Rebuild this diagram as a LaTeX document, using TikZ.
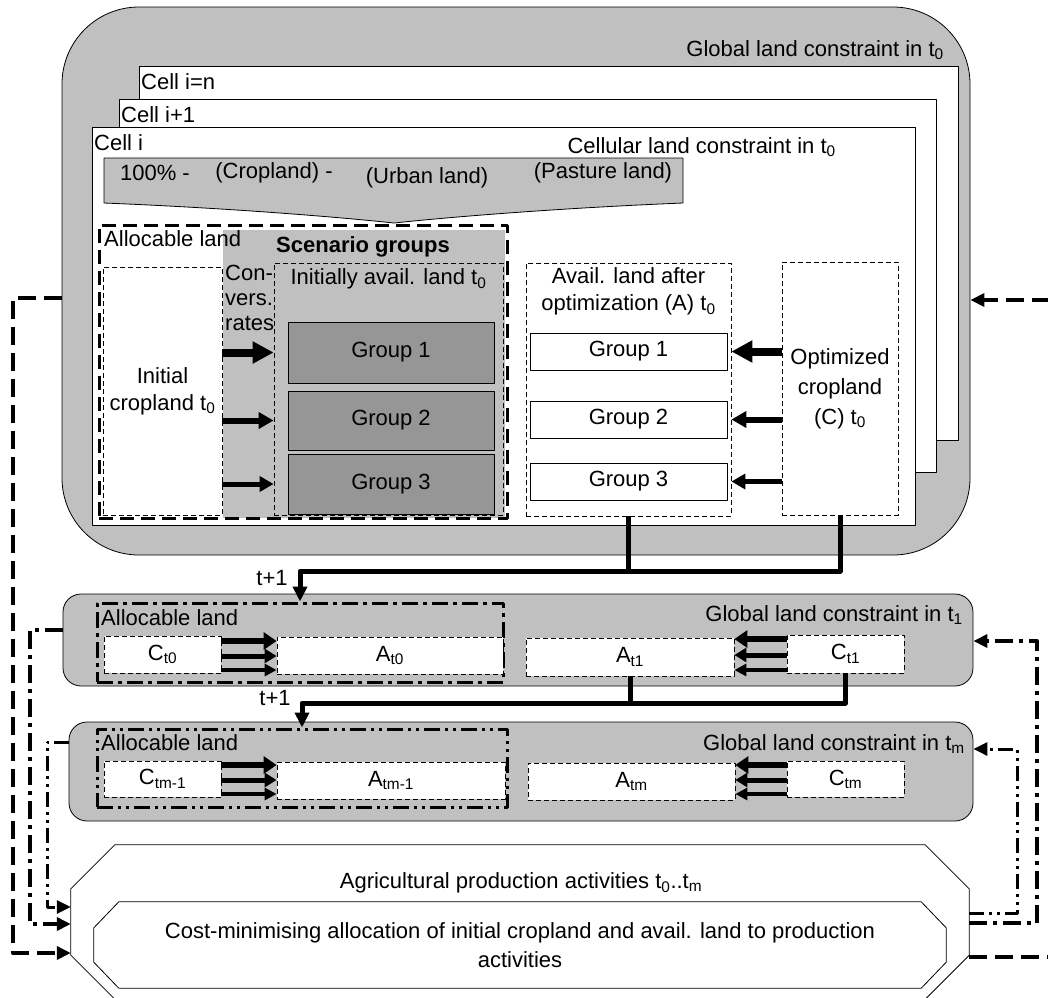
\documentclass[tikz,border=0pt]{standalone}
\usepackage{fontspec}
\setmainfont{Liberation Sans}
\usetikzlibrary{arrows.meta}
\definecolor{silver}{RGB}{192,192,192}
\definecolor{grpgray}{RGB}{150,150,150}

\begin{document}
\begin{tikzpicture}[x=1pt,y=-1pt,font=\fontsize{22}{27}\selectfont,line join=round,>={Triangle[length=14pt,width=13pt]},
  txt/.style={inner sep=0pt},
  box/.style={draw,line width=0.8pt,inner sep=0pt},
  thinbox/.style={box,dash pattern=on 5pt off 3pt},
  rowbox/.style={thinbox,fill=white},
  grpbox/.style={box,fill=grpgray,minimum width=206pt},
  optbox/.style={box,fill=white,minimum width=197pt,minimum height=37pt},
  heavydash/.style={draw,inner sep=0pt,line width=3pt,dash pattern=on 14pt off 7pt},
  heavydashdot/.style={draw,inner sep=0pt,line width=3pt,dash pattern=on 16pt off 5pt on 4pt off 5pt},
  heavydashdotdot/.style={draw,inner sep=0pt,line width=3pt,dash pattern=on 16pt off 5pt on 3pt off 5pt on 3pt off 5pt},
  fatI/.style={line width=8pt,-{Triangle[length=21pt,width=21pt]}},
  fatII/.style={line width=6pt,-{Triangle[length=15pt,width=16pt]}},
  fatIII/.style={line width=5pt,-{Triangle[length=14pt,width=15pt]}},
  rowI/.style={line width=6pt,-{Triangle[length=13pt,width=17pt]}},
  rowII/.style={line width=5pt,-{Triangle[length=12pt,width=14pt]}},
  rowIII/.style={line width=4pt,-{Triangle[length=12pt,width=12pt]}},
  tline/.style={line width=5pt,-{Triangle[length=15pt,width=14pt]}},
  loopdash/.style={line width=4pt,dash pattern=on 18pt off 8pt},
  loopdd/.style={line width=4pt,dash pattern=on 18pt off 6pt on 4pt off 6pt},
  loopddd/.style={line width=3pt,dash pattern=on 15pt off 5pt on 3pt off 5pt on 3pt off 5pt}]
\useasboundingbox (0,0) rectangle (1048,997);

\node[box,fill=silver,rounded corners=77pt,minimum width=908pt,minimum height=548pt] (glob0) at (516,281) {};
\node[txt,anchor=east] (glob0lbl) at (944,50) {Global land constraint in t\textsubscript{0}};
\node[box,fill=white,minimum width=819pt,minimum height=374pt] (cellN) at (548.5,253) {};
\node[box,fill=white,minimum width=817pt,minimum height=373pt] (cellB) at (527.5,285.5) {};
\node[box,fill=white,minimum width=823pt,minimum height=398pt] (cellA) at (503.5,326) {};
\node[txt,anchor=west] (cellNlbl) at (141,82) {Cell i=n};
\node[txt,anchor=west] (cellBlbl) at (121,115) {Cell i+1};
\node[txt,anchor=west] (cellAlbl) at (94,143) {Cell i};
\node[txt,anchor=east] (cellAcon) at (836,147) {Cellular land constraint in t\textsubscript{0}};

\draw[line width=0.8pt,fill=silver] (104,158) -- (683,158) -- (683,203) .. controls (560,208) and (450,217) .. (394,223) .. controls (338,217) and (228,208) .. (104,203) -- cycle;
\node[txt] (share1) at (155,173) {100\% -};
\node[txt] (share2) at (274,173) {(Cropland) -};
\node[txt] (share3) at (427,178) {(Urban land)};
\node[txt] (share4) at (603,173) {(Pasture land)};

\node[fill=silver,inner sep=0pt,minimum width=282pt,minimum height=288pt] (scen) at (364,374) {};
\node[heavydash,minimum width=408pt,minimum height=293pt] (alloc0) at (303,371.5) {};
\node[txt,anchor=west] (alloc0lbl) at (104,239) {Allocable land};
\node[txt,font=\fontsize{22}{27}\selectfont\bfseries] (scenlbl) at (363,247) {Scenario groups};
\node[thinbox,fill=white,minimum width=119pt,minimum height=248pt,align=center] (init0) at (162.5,391) {Initial\\cropland t\textsubscript{0}};
\node[txt,anchor=north west,align=left,font=\fontsize{22}{25}\selectfont] (conv) at (225,265) {Con-\\vers.\\rates};
\node[thinbox,minimum width=229pt,minimum height=252pt] (avail0) at (388.5,389) {};
\node[txt] (avail0lbl) at (388.5,279) {Initially avail. land t\textsubscript{0}};
\node[grpbox,minimum height=61pt] (ga1) at (391,352.5) {Group 1};
\node[grpbox,minimum height=59pt] (ga2) at (391,420.5) {Group 2};
\node[grpbox,minimum height=60pt] (ga3) at (391,484) {Group 3};
\draw[fatI] (init0.east |- ga1) -- (avail0.west |- ga1);
\draw[fatII] (init0.east |- ga2) -- (avail0.west |- ga2);
\draw[fatIII] (init0.east |- ga3) -- (avail0.west |- ga3);

\node[thinbox,minimum width=205pt,minimum height=253pt] (availA) at (628.5,389.5) {};
\node[txt,align=center] (availAlbl) at (628.5,291.5) {Avail. land after\\optimization (A) t\textsubscript{0}};
\node[optbox] (gb1) at (628.5,351.5) {Group 1};
\node[optbox] (gb2) at (628.5,419.5) {Group 2};
\node[optbox] (gb3) at (628.5,481.5) {Group 3};
\node[thinbox,fill=white,minimum width=116pt,minimum height=253pt,align=center,font=\fontsize{22}{30}\selectfont] (opt0) at (840,388.5) {Optimized\\cropland\\(C) t\textsubscript{0}};
\draw[fatI] (opt0.west |- gb1) -- (availA.east |- gb1);
\draw[fatII] (opt0.west |- gb2) -- (availA.east |- gb2);
\draw[fatIII] (opt0.west |- gb3) -- (availA.east |- gb3);

\node[box,fill=silver,rounded corners=18pt,minimum width=910pt,minimum height=92pt] (glob1) at (518,640) {};
\node[txt,anchor=east] (glob1lbl) at (963,615) {Global land constraint in t\textsubscript{1}};
\node[heavydashdot,minimum width=406pt,minimum height=79pt] (alloc1) at (300,642.5) {};
\node[txt,anchor=west] (alloc1lbl) at (101,618) {Allocable land};
\node[rowbox,minimum width=117pt,minimum height=37pt] (c1a) at (162.5,654.5) {C\textsubscript{t0}};
\node[rowbox,minimum width=226pt,minimum height=37pt] (a1a) at (390,655.5) {A\textsubscript{t0}};
\node[rowbox,minimum width=208pt,minimum height=38pt] (a1b) at (630,657) {A\textsubscript{t1}};
\node[rowbox,minimum width=117pt,minimum height=38pt] (c1b) at (845.5,654) {C\textsubscript{t1}};
\draw[rowI] (c1a.east |- 0,641) -- (a1a.west |- 0,641);
\draw[rowII] (c1a.east |- 0,656) -- (a1a.west |- 0,656);
\draw[rowIII] (c1a.east |- 0,670) -- (a1a.west |- 0,670);
\draw[rowI] (c1b.west |- 0,639) -- (a1b.east |- 0,639);
\draw[rowII] (c1b.west |- 0,655) -- (a1b.east |- 0,655);
\draw[rowIII] (c1b.west |- 0,670) -- (a1b.east |- 0,670);

\node[box,fill=silver,rounded corners=18pt,minimum width=904pt,minimum height=99pt] (globm) at (521,771.5) {};
\node[txt,anchor=east] (globmlbl) at (965,744) {Global land constraint in t\textsubscript{m}};
\node[heavydashdotdot,minimum width=410pt,minimum height=78pt] (allocm) at (302,768) {};
\node[txt,anchor=west] (allocmlbl) at (101,743) {Allocable land};
\node[rowbox,minimum width=117pt,minimum height=36pt] (cma) at (162.5,779) {C\textsubscript{tm-1}};
\node[rowbox,minimum width=228pt,minimum height=37pt] (ama) at (391,780.5) {A\textsubscript{tm-1}};
\node[rowbox,minimum width=207pt,minimum height=37pt] (amb) at (631.5,781.5) {A\textsubscript{tm}};
\node[rowbox,minimum width=117pt,minimum height=36pt] (cmb) at (845.5,779) {C\textsubscript{tm}};
\draw[rowI] (cma.east |- 0,765) -- (ama.west |- 0,765);
\draw[rowII] (cma.east |- 0,780) -- (ama.west |- 0,780);
\draw[rowIII] (cma.east |- 0,794) -- (ama.west |- 0,794);
\draw[rowI] (cmb.west |- 0,765) -- (amb.east |- 0,765);
\draw[rowII] (cmb.west |- 0,780) -- (amb.east |- 0,780);
\draw[rowIII] (cmb.west |- 0,794) -- (amb.east |- 0,794);

\coordinate (jn1) at (300,571);
\coordinate (jn2) at (302,703);
\draw[line width=5pt] (availA.south) -- (availA.south |- jn1);
\draw[tline] (opt0.south) |- (jn1) -- (jn1 |- alloc1.north);
\node[txt] (tplus1) at (272,578) {t+1};
\draw[line width=5pt] (a1b.south) -- (a1b.south |- jn2);
\draw[tline] (c1b.south) |- (jn2) -- (jn2 |- allocm.north);
\node[txt] (tplus2) at (275,698) {t+1};

\node[inner sep=0pt,minimum width=898pt,minimum height=154pt] (agri) at (520,922) {};
\draw[line width=0.8pt] ([xshift=44pt]agri.north west) -- ([xshift=-44pt]agri.north east) -- ([yshift=-44pt]agri.north east) -- ([yshift=44pt]agri.south east) -- ([xshift=-44pt]agri.south east) -- ([xshift=44pt]agri.south west) -- ([yshift=44pt]agri.south west) -- ([yshift=-44pt]agri.north west) -- cycle;
\node[txt] (agrilbl) at (521,883) {Agricultural production activities t\textsubscript{0}..t\textsubscript{m}};
\node[inner sep=0pt,minimum width=852pt,minimum height=86pt] (costmin) at (520,945) {};
\draw[line width=0.8pt] ([xshift=25pt]costmin.north west) -- ([xshift=-25pt]costmin.north east) -- ([yshift=-26pt]costmin.north east) -- ([yshift=26pt]costmin.south east) -- ([xshift=-25pt]costmin.south east) -- ([xshift=25pt]costmin.south west) -- ([yshift=26pt]costmin.south west) -- ([yshift=-26pt]costmin.north west) -- cycle;
\node[txt,align=center,font=\fontsize{22}{29}\selectfont] (costminlbl) at (520,945) {Cost-minimising allocation of initial cropland and avail. land to production\\activities};

\draw[loopdash,->] (glob0.west |- 0,298) -| (13,953) -- (agri.west |- 0,953);
\draw[loopdd,->] (glob1.west |- 0,630) -| (30,924) -- (agri.west |- 0,924);
\draw[loopddd,->] (globm.west |- 0,742) -| (47,907) -- (agri.west |- 0,907);
\coordinate (outA) at (1050,300);
\coordinate (outB) at (1050,957);
\draw[loopdash,->] (outA) -- (glob0.east |- outA);
\draw[loopdash] (agri.east |- outB) -- (outB);
\draw[loopdd,->] (agri.east |- 0,923) -| (1037,641) -- (glob1.east |- 0,641);
\draw[loopddd,->] (agri.east |- 0,913) -| (1017,749) -- (globm.east |- 0,749);
\end{tikzpicture}
\end{document}
